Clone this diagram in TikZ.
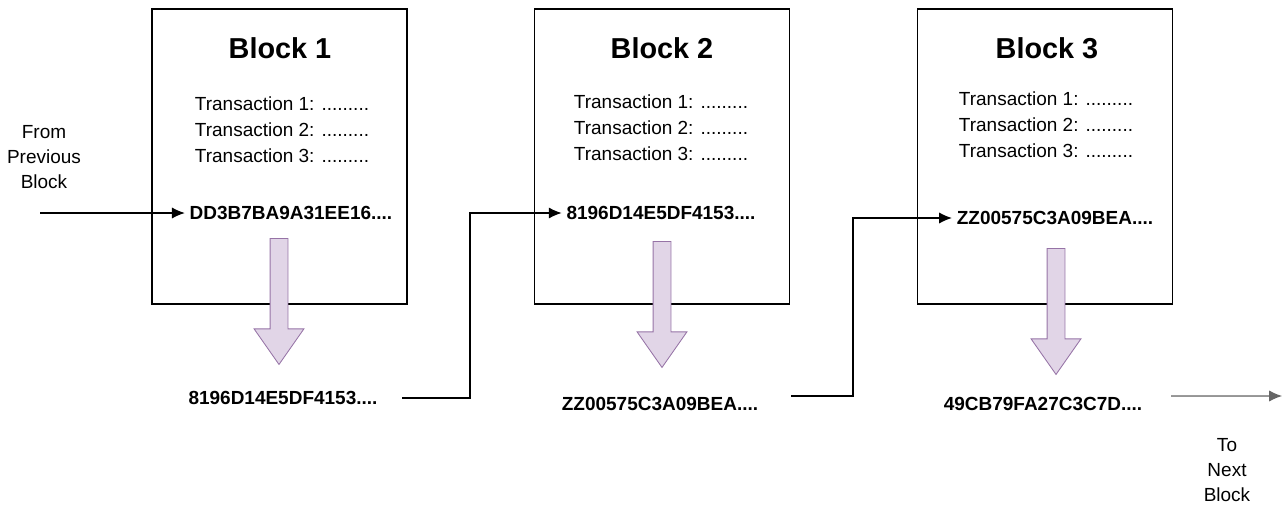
\documentclass[tikz,border=0pt]{standalone}
\usepackage{fontspec}
\setmainfont{Liberation Sans}
\usetikzlibrary{positioning,
                arrows.meta,
                shapes.arrows}
\definecolor{hashfill}{HTML}{E1D5E7}
\definecolor{hashdraw}{HTML}{9673A6}
\tikzset{
         blockbox/.style={draw, line width=1pt, minimum width=6.375cm, minimum height=7.375cm},
         blocktitle/.style={font=\fontsize{20.5}{24}\selectfont\bfseries},
         txlist/.style={align=center, font=\fontsize{13.5}{18.5}\selectfont},
         hash/.style={font=\fontsize{13.5}{16}\selectfont\bfseries},
         note/.style={align=center, font=\fontsize{13.5}{18}\selectfont},
         hasharrow/.style={single arrow, draw=hashdraw, fill=hashfill, line width=0.6pt,
                           rotate=-90, anchor=tail, inner sep=0.2125cm,
                           minimum height=3.15cm, single arrow head extend=0.4cm,
                           single arrow tip angle=70},
         link/.style={-{Latex[length=3.2mm, width=2.8mm]}, line width=0.8pt},
}

\begin{document}
\begin{tikzpicture}[x=0.025cm, y=-0.025cm]
    \useasboundingbox (0,0) rectangle (1282,506);

    % Block 1
    \node[blockbox] (b1) at (279.5,156.5) {};
    \node[blocktitle] (t1) at (280,48) {Block 1};
    \node[txlist] (tx1) at (282,130) {Transaction 1: .........\\Transaction 2: .........\\Transaction 3: .........};
    \node[hash] (h1) at (291,213) {DD3B7BA9A31EE16....};
    \node[hasharrow] (a1) at (279,238) {};
    \node[hash] (o1) at (283,398) {8196D14E5DF4153....};

    % Block 2
    \node[blockbox] (b2) at (662,156.5) {};
    \node[blocktitle] (t2) at (662,48) {Block 2};
    \node[txlist] (tx2) at (661,128) {Transaction 1: .........\\Transaction 2: .........\\Transaction 3: .........};
    \node[hash] (h2) at (661,213) {8196D14E5DF4153....};
    \node[hasharrow] (a2) at (662,241) {};
    \node[hash] (o2) at (660,404) {ZZ00575C3A09BEA....};

    % Block 3
    \node[blockbox] (b3) at (1045,156.5) {};
    \node[blocktitle] (t3) at (1047,48) {Block 3};
    \node[txlist] (tx3) at (1046,125) {Transaction 1: .........\\Transaction 2: .........\\Transaction 3: .........};
    \node[hash] (h3) at (1055,218) {ZZ00575C3A09BEA....};
    \node[hasharrow] (a3) at (1056,248) {};
    \node[hash] (o3) at (1043,404) {49CB79FA27C3C7D....};

    % Verbindungen
    \coordinate (prev) at (40,213);
    \node[note] (prevtext) at (44,157) {From\\Previous\\Block};
    \draw[link] (prev) -- (h1.west);

    \coordinate (j1) at (470,300);
    \draw[link] ([xshift=0.5cm]o1.east) -| (j1 |- h2.west) -- (h2.west);

    \coordinate (j2) at (853,300);
    \draw[link] ([xshift=0.7cm, yshift=0.2cm]o2.east) -| (j2 |- h3.west) -- (h3.west);

    \coordinate (next) at (1282,396);
    \node[note] (nexttext) at (1227,470) {To\\Next\\Block};
    \draw[link, draw=black!60, fill=black!60] ([xshift=0.6cm, yshift=0.2cm]o3.east) -- (next);
\end{tikzpicture}
\end{document}
